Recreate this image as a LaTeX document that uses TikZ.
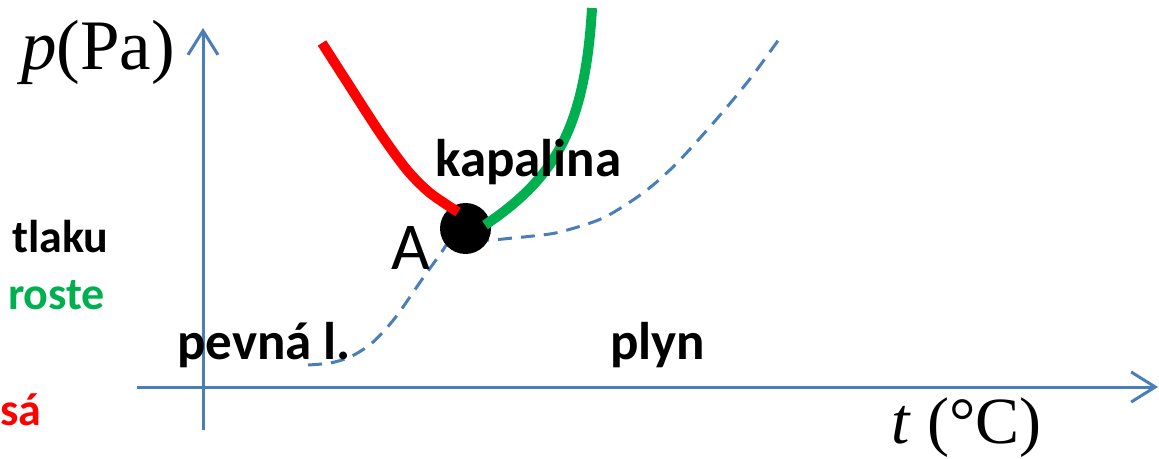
\documentclass[tikz,border=0pt]{standalone}
\usepackage{fontspec}
\usepackage{xcolor}
\usepackage{tikz}
\usetikzlibrary{arrows.meta}
\setmainfont{Liberation Serif}
\newfontfamily\calibri{Carlito}
\definecolor{PDBlue}{HTML}{4A7EBB}
\definecolor{PDRed}{HTML}{FF0000}
\definecolor{PDGreen}{HTML}{00B050}

\begin{document}
\begin{tikzpicture}[x=1pt,y=1pt,
  axis/.style={PDBlue,line width=3pt,-{Straight Barb[length=24pt,width=30pt,line width=3pt]}},
  phase/.style={line width=10pt},
  region/.style={anchor=base west,inner sep=0pt,font=\calibri\bfseries\fontsize{53}{60}\selectfont},
  note/.style={anchor=base west,inner sep=0pt,font=\calibri\bfseries\fontsize{46}{52}\selectfont}]
\path[use as bounding box] (0,0) rectangle (1159,458);
% axes
\coordinate (ybot) at (203,28);
\coordinate (ytop) at (203,430);
\coordinate (xleft) at (137,71);
\coordinate (xright) at (1158,71);
\draw[axis] (ybot) -- (ytop);
\draw[axis] (xleft) -- (xright);
\node[anchor=base west,inner sep=0pt,font=\fontsize{71}{80}\selectfont] (plab) at (21,388) {\textit{p}(Pa)};
\node[anchor=base west,inner sep=0pt,font=\fontsize{66}{74}\selectfont] (tlab) at (891,15) {\textit{t} (°C)};
% dashed boundary
\draw[PDBlue,line width=3pt,dash pattern=on 14pt off 9pt] plot[smooth] coordinates {(308,93) (330,95) (350,101) (372,115) (395,140) (423,180) (443,208) (455,228) (460,236)};
\draw[PDBlue,line width=3pt,dash pattern=on 14pt off 9pt] plot[smooth] coordinates {(475,218) (492,218) (513,220) (533,222) (560,226) (603,240) (643,265) (673,291) (700,320) (727,351) (753,383) (782,423)};
% triple point
\node[circle,fill=black,inner sep=0pt,minimum size=51pt] (A) at (465.5,229.5) {};
\node[anchor=base west,inner sep=0pt,font=\calibri\fontsize{67}{74}\selectfont] (Alab) at (391,188) {A};
% curves
\draw[PDRed,phase] plot[smooth] coordinates {(322,415) (347,376) (380,325) (407,288) (430,265) (458,246)};
\draw[PDGreen,phase] (485,233) .. controls (555,280) and (585,330) .. (592,450);
% labels
\node[region] (liq) at (435,281) {kapalina};
\node[region] (sol) at (177,98) {pevná l.};
\node[region] (gas) at (610,98) {plyn};
\node[note] (n1) at (12,205) {tlaku};
\node[note,text=PDGreen] (n2) at (8,148) {roste};
\node[note,text=PDRed] (n3) at (0,33) {sá};
\end{tikzpicture}
\end{document}
